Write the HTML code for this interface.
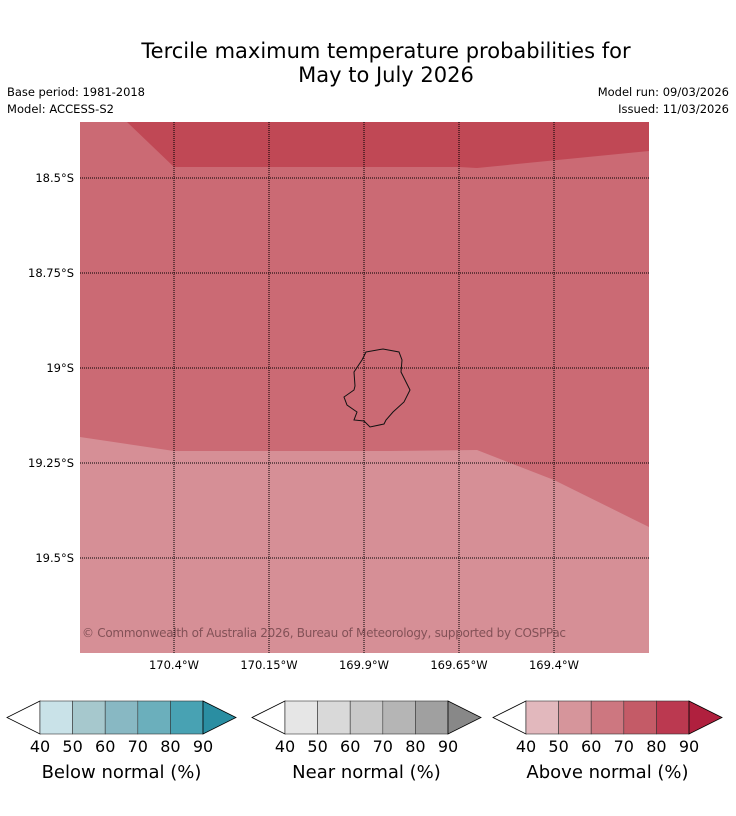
<!DOCTYPE html>
<html><head><meta charset="utf-8"><style>
body{margin:0;background:#fff;}
svg{display:block;font-family:"DejaVu Sans","Liberation Sans",sans-serif;}
</style></head><body>
<svg id="chart" width="736" height="816" viewBox="0 0 736 816">
<text x="386" y="58" font-size="21" text-anchor="middle" fill="#000">Tercile maximum temperature probabilities for</text>
<text x="386" y="82" font-size="21" text-anchor="middle" fill="#000">May to July 2026</text>
<text x="7" y="96" font-size="11.5" textLength="138">Base period: 1981-2018</text>
<text x="7" y="113" font-size="11.5" textLength="107">Model: ACCESS-S2</text>
<text x="729" y="96" font-size="11.5" text-anchor="end">Model run: 09/03/2026</text>
<text x="729" y="113" font-size="11.5" text-anchor="end">Issued: 11/03/2026</text>
<g id="map">
<rect x="80" y="122" width="569" height="531" fill="#cb6a74"/>
<polygon points="127,122 174,167 459,167 477,168 649,151 649,122" fill="#c04855"/>
<polygon points="80,437 174,451 390,451 477,450 554,480 649,527 649,653 80,653" fill="#d68f96"/>
<path d="M366,352 L383,349 L399,352 L402,360 L401,372 L406,382 L410,390 L404,402 L393,412 L386,420 L384,424 L370,427 L364,421 L354,420 L357,412 L347,405 L344,397 L354,390 L355,386 L354,372 L362,360 Z" fill="none" stroke="#111" stroke-width="1"/>
<g id="grid"></g>
<text x="82" y="637" font-size="12" textLength="484" fill="#7a4a50" fill-opacity="0.9">© Commonwealth of Australia 2026, Bureau of Meteorology, supported by COSPPac</text>
</g>
<g id="cbars"></g>
</svg>
<script>
const lonTicks=[-170.4,-170.15,-169.9,-169.65,-169.4];
const lonLabels=["170.4°W","170.15°W","169.9°W","169.65°W","169.4°W"];
const latTicks=[-18.5,-18.75,-19,-19.25,-19.5];
const latLabels=["18.5°S","18.75°S","19°S","19.25°S","19.5°S"];
const cbTicks=[40,50,60,70,80,90];
const belowColors=["#c9e2e8","#a6c8cd","#88b8c3","#6bafbc","#48a2b3","#2a8ea2"];
const nearColors=["#e6e6e6","#d9d9d9","#c9c9c9","#b5b5b5","#a0a0a0","#888888"];
const aboveColors=["#e2b8bd","#d6959b","#cd7780","#c45b67","#bb3950","#b0203e"];
const cbTitles=["Below normal (%)","Near normal (%)","Above normal (%)"];
const NS="http://www.w3.org/2000/svg";
const xS=v=>174+(v+170.4)/0.25*95;
const yS=v=>178+(-18.5-v)/0.25*95;
const g=document.getElementById('grid');
function mk(t,a,p){const e=document.createElementNS(NS,t);for(const k in a)e.setAttribute(k,a[k]);p.appendChild(e);return e;}
lonTicks.forEach((v,i)=>{const x=xS(v);
 const l=mk('line',{x1:x,x2:x,y1:122,y2:653,stroke:'#000','stroke-width':1,'stroke-dasharray':'1,1'},g);
 
 
 const t=mk('text',{x:x,y:669,'font-size':11.5,'text-anchor':'middle'},g);t.textContent=lonLabels[i];
 
 });
latTicks.forEach((v,i)=>{const y=yS(v);
 const l=mk('line',{x1:80,x2:649,y1:y,y2:y,stroke:'#000','stroke-width':1,'stroke-dasharray':'1,1'},g);
 
 
 const t=mk('text',{x:74,y:y+4,'font-size':11.5,'text-anchor':'end'},g);t.textContent=latLabels[i];
 
 });
const cb=document.getElementById('cbars');
const starts=[40,285,526];
[belowColors,nearColors,aboveColors].forEach((cols,k)=>{
 const x0=starts[k],w=32.6,y0=701,y1=734,ym=717.5;
 const cs=v=>x0+(v-40)/10*w;
 const grp=mk('g',{},cb);
 
 
 const lt=mk('polygon',{points:`${x0},${y0} ${x0-33},${ym} ${x0},${y1}`,fill:'#fff',stroke:'#000','stroke-width':0.8},grp);
 
 
 for(let i=0;i<5;i++){const r=mk('rect',{x:cs(cbTicks[i]),y:y0,width:cs(cbTicks[i+1])-cs(cbTicks[i]),height:y1-y0,fill:cols[i],stroke:'#333','stroke-width':0.6},grp);
  
  }
 const rt=mk('polygon',{points:`${cs(90)},${y0} ${cs(90)+33},${ym} ${cs(90)},${y1}`,fill:cols[5],stroke:'#000','stroke-width':0.8},grp);
 
 
 cbTicks.forEach(v=>{const t=mk('text',{x:cs(v),y:752,'font-size':16,'text-anchor':'middle'},grp);t.textContent=v;
  
  });
 const tt=mk('text',{x:(cs(40)+cs(90))/2,y:778,'font-size':18,'text-anchor':'middle'},grp);tt.textContent=cbTitles[k];
 
 
});
</script>
</body></html>
